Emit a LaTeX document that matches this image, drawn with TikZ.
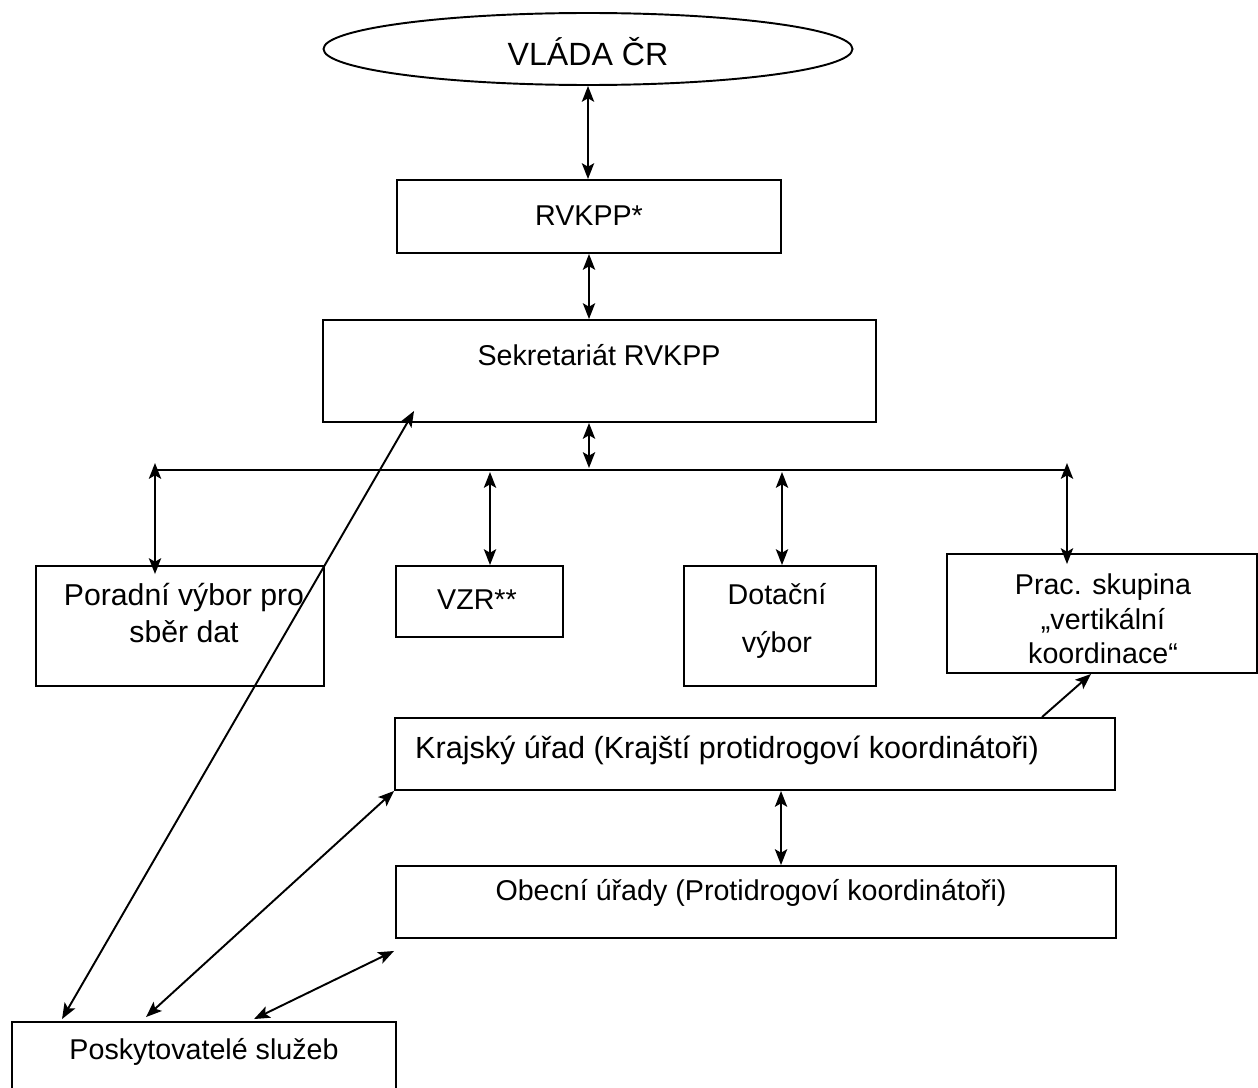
\documentclass[tikz,border=0pt]{standalone}
\usepackage{fontspec}
\setmainfont{Liberation Sans}
\usetikzlibrary{arrows.meta,calc,shapes.geometric}
\begin{document}
\begin{tikzpicture}[x=0.02cm,y=-0.02cm, line width=1.1pt,
  box/.style={draw, rectangle, inner sep=0pt},
  txt/.style={font=\fontsize{16.3}{20.5}\selectfont, align=center, inner sep=0pt},
  tip/.tip={Stealth[length=9pt,width=7pt,inset=2pt]},
  arr/.style={tip-tip},
  oarr/.style={-tip}]
\useasboundingbox (0,0) rectangle (1258,1088);
% shapes
\node[draw, ellipse, inner sep=0pt, minimum width=529*0.02cm, minimum height=72*0.02cm] (vlada) at (588,49) {};
\node[txt, font=\fontsize{18.3}{22}\selectfont] (vladaT) at (588,52) {VLÁDA ČR};
\node[box, minimum width=384*0.02cm, minimum height=73*0.02cm] (rvkpp) at (589,216.5) {};
\node[txt] (rvkppT) at (589,216) {RVKPP*};
\node[box, minimum width=553*0.02cm, minimum height=102*0.02cm] (sek) at (599.5,371) {};
\node[txt] (sekT) at (599,355) {Sekretariát RVKPP};
\node[box, minimum width=288*0.02cm, minimum height=120*0.02cm] (poradni) at (180,626) {};
\node[txt, font=\fontsize{17.2}{21}\selectfont] (poradniT) at (184,613) {Poradní výbor pro\\sběr dat};
\node[box, minimum width=167*0.02cm, minimum height=71*0.02cm] (vzr) at (479.5,601.5) {};
\node[txt] (vzrT) at (477,600) {VZR**};
\node[box, minimum width=192*0.02cm, minimum height=120*0.02cm] (dot) at (780,626) {};
\node[txt, font=\fontsize{16.3}{27}\selectfont] (dotT) at (777,621) {Dotační\\výbor};
\node[box, minimum width=310*0.02cm, minimum height=119*0.02cm] (prac) at (1102,613.5) {};
\node[txt, font=\fontsize{16.3}{19.5}\selectfont] (pracT) at (1103,619) {Prac. skupina\\„vertikální\\koordinace“};
\node[box, minimum width=720*0.02cm, minimum height=72*0.02cm] (kraj) at (755,754) {};
\node[txt, font=\fontsize{17.4}{21}\selectfont] (krajT) at (727,750) {Krajský úřad (Krajští protidrogoví koordinátoři)};
\node[box, minimum width=720*0.02cm, minimum height=72*0.02cm] (obec) at (756,902) {};
\node[txt] (obecT) at (751,893) {Obecní úřady (Protidrogoví koordinátoři)};
\node[box, minimum width=384*0.02cm, minimum height=110*0.02cm] (posk) at (204,1077) {};
\node[txt] (poskT) at (204,1052) {Poskytovatelé služeb};
% bus line
\coordinate (hl) at (155,470);
\coordinate (h2) at (490,470);
\coordinate (h3) at (782,470);
\coordinate (hr) at (1067,470);
\draw (hl) -- (hr);
% connectors
\draw[arr] (vlada.south) -- (vlada.south |- rvkpp.north);
\draw[arr] (rvkpp.south) -- (rvkpp.south |- sek.north);
\draw[arr] (rvkpp.south |- sek.south) -- ($(rvkpp.south |- hl)+(0,-2)$);
\draw[arr] ($(hl)+(0,-7)$) -- ($(hl |- poradni.north)+(0,9)$);
\draw[arr] ($(h2)+(0,2)$) -- (h2 |- vzr.north);
\draw[arr] ($(h3)+(0,2)$) -- (h3 |- dot.north);
\draw[arr] ($(hr)+(0,-7)$) -- ($(hr |- prac.north)+(0,11)$);
\draw[arr] ($(kraj.south west)+(387,0)$) -- ($(obec.north west)+(386,0)$);
\draw[arr] ($(sek.south west)+(92,-12)$) -- ($(posk.north west)+(51,-2)$);
\draw[arr] (kraj.south west) -- ($(posk.north west)+(135,-4)$);
\draw[arr] ($(obec.south west)+(-1,12)$) -- ($(posk.north west)+(243,-2)$);
\draw[oarr] ($(kraj.north west)+(648,0)$) -- ($(prac.south west)+(145,0)$);
\end{tikzpicture}
\end{document}
